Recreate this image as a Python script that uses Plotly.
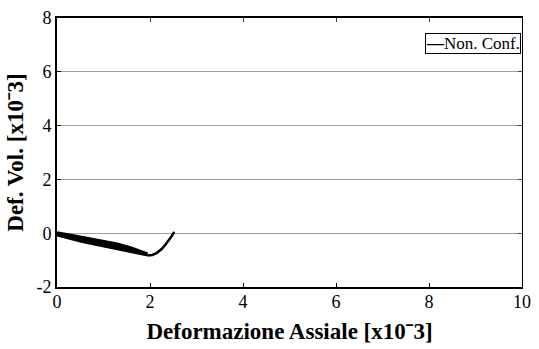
import plotly.graph_objects as go

# Upper edge of the thick band (loading branch)
band_upper_x = [0.0, 0.1, 0.3, 0.5, 0.8, 1.06, 1.3, 1.6, 1.8, 1.95]
band_upper_y = [0.04, 0.0, -0.06, -0.12, -0.21, -0.29, -0.38, -0.53, -0.65, -0.75]
# Lower edge of the thick band
band_lower_x = [0.0, 0.1, 0.3, 0.5, 0.8, 1.06, 1.3, 1.6, 1.8, 1.95]
band_lower_y = [-0.08, -0.13, -0.22, -0.31, -0.42, -0.51, -0.61, -0.72, -0.79, -0.83]
# Final branch rising back to zero
tail_x = [1.95, 2.05, 2.15, 2.25, 2.33, 2.41, 2.47, 2.52]
tail_y = [-0.83, -0.81, -0.73, -0.59, -0.43, -0.26, -0.10, 0.05]

series_name = "Non. Conf."
x_ticks = [0, 2, 4, 6, 8, 10]
y_ticks = [-2, 0, 2, 4, 6, 8]
y_tick_text = ["-2", "0", "2", "4", "6", "8"]

font = "Liberation Serif"

fig = go.Figure()
fig.add_trace(go.Scatter(x=band_upper_x, y=band_upper_y, mode="lines",
                         line=dict(color="black", width=2), showlegend=False,
                         hoverinfo="skip"))
fig.add_trace(go.Scatter(x=band_lower_x, y=band_lower_y, mode="lines",
                         line=dict(color="black", width=2), fill="tonexty",
                         fillcolor="black", showlegend=False, hoverinfo="skip"))
fig.add_trace(go.Scatter(x=tail_x, y=tail_y, mode="lines",
                         line=dict(color="black", width=2.5), name=series_name,
                         showlegend=False))

fig.update_layout(
    width=539, height=349,
    margin=dict(l=57, r=13, t=8, b=62),
    paper_bgcolor="white", plot_bgcolor="white",
    font=dict(family=font, color="black", size=18),
    showlegend=False,
    xaxis=dict(range=[0, 10], tickvals=x_ticks, ticks="inside", ticklen=4,
               tickcolor="black", showgrid=False, zeroline=False,
               showline=True, linecolor="black", linewidth=2,
               ticklabelstandoff=-3, ticklabeloverflow="allow",
               title=dict(text="<b>Deformazione Assiale [x10ˉ3]</b>",
                          font=dict(size=23, family=font), standoff=12),
               tickfont=dict(size=18, family=font)),
    yaxis=dict(range=[-2, 8], tickvals=y_ticks, ticktext=y_tick_text,
               ticks="inside", ticklen=4,
               tickcolor="black", showgrid=True, gridcolor="#a0a0a0", gridwidth=1,
               zeroline=False, showline=True, linecolor="black", linewidth=2,
               ticklabeloverflow="allow",
               title=dict(text="<b>Def. Vol. [x10ˉ3]</b>",
                          font=dict(size=23, family=font), standoff=6),
               tickfont=dict(size=18, family=font)),
    xaxis2=dict(range=[0, 10], tickvals=x_ticks, ticks="inside", ticklen=4,
                overlaying="x", side="top", showticklabels=False,
                showline=True, linecolor="black", linewidth=2, showgrid=False,
                zeroline=False),
    yaxis2=dict(range=[-2, 8], tickvals=y_ticks, ticks="inside", ticklen=4,
                overlaying="y", side="right", showticklabels=False,
                showline=True, linecolor="black", linewidth=1, showgrid=False,
                zeroline=False),
)
fig.add_trace(go.Scatter(x=[None], y=[None], xaxis="x2", yaxis="y2",
                         showlegend=False, hoverinfo="skip"))

# legend box drawn as a bordered text annotation
fig.add_annotation(xref="paper", yref="paper", x=0.997, y=0.946,
                   xanchor="right", yanchor="top", showarrow=False,
                   text="<b>—</b>" + series_name,
                   font=dict(size=17, family=font, color="black"),
                   bgcolor="white", bordercolor="black", borderwidth=1,
                   borderpad=0)

fig.write_html("out.html")
